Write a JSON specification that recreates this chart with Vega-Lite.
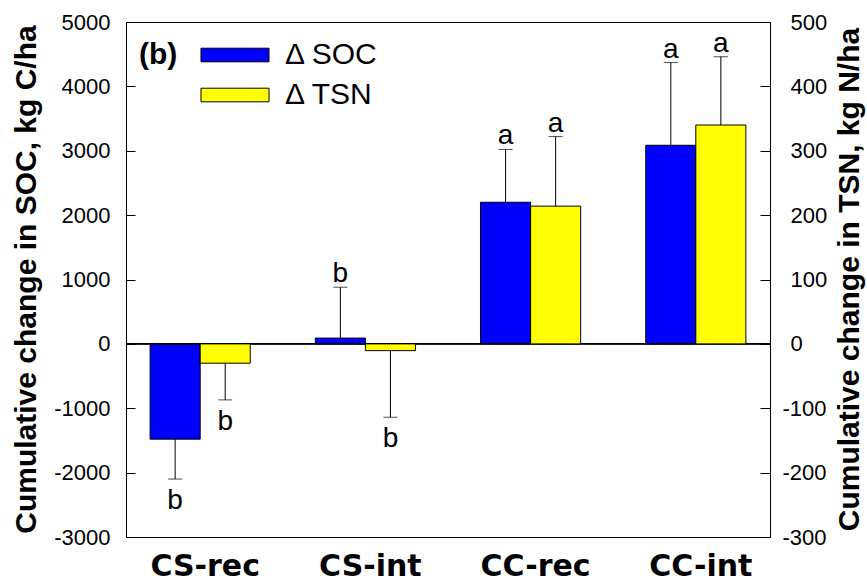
{
  "$schema": "https://vega.github.io/schema/vega-lite/v6.json",
  "width": 644,
  "height": 515,
  "autosize": {"type": "none"},
  "padding": {"left": 126, "top": 22, "right": 97, "bottom": 45},
  "background": "white",
  "config": {
    "view": {"stroke": "black", "strokeWidth": 1},
    "font": "Liberation Sans",
    "axis": {"labelColor": "black", "titleColor": "black", "tickColor": "black", "domain": false}
  },
  "datasets": {
    "soc": [
      {"treat": "CS-rec", "series": "Δ SOC", "value": -1480, "err": -2100, "letter": "b"},
      {"treat": "CS-int", "series": "Δ SOC", "value": 90, "err": 880, "letter": "b"},
      {"treat": "CC-rec", "series": "Δ SOC", "value": 2200, "err": 3020, "letter": "a"},
      {"treat": "CC-int", "series": "Δ SOC", "value": 3085, "err": 4370, "letter": "a"}
    ],
    "tsn": [
      {"treat": "CS-rec", "series": "Δ TSN", "value": -30, "err": -87, "letter": "b"},
      {"treat": "CS-int", "series": "Δ TSN", "value": -10.5, "err": -114, "letter": "b"},
      {"treat": "CC-rec", "series": "Δ TSN", "value": 214, "err": 322, "letter": "a"},
      {"treat": "CC-int", "series": "Δ TSN", "value": 340, "err": 446, "letter": "a"}
    ]
  },
  "encoding": {
    "x": {
      "field": "treat", "type": "nominal", "sort": ["CS-rec", "CS-int", "CC-rec", "CC-int"],
      "scale": {"paddingInner": 0.394, "paddingOuter": 0.146},
      "title": null,
      "axis": {"orient": "bottom", "ticks": false, "tickSize": 0, "labelAngle": 0, "labelFont": "DejaVu Sans", "labelFontWeight": "bold", "labelFontSize": 30, "labelBaseline": "alphabetic", "labelPadding": 38, "labelOffset": 5}
    },
    "xOffset": {"field": "series", "type": "nominal", "scale": {"domain": ["Δ SOC", "Δ TSN"]}}
  },
  "layer": [
    {
      "data": {"name": "soc"},
      "layer": [
        {
          "mark": {"type": "bar", "stroke": "black", "strokeWidth": 1},
          "encoding": {
            "y": {
              "field": "value", "type": "quantitative",
              "scale": {"domain": [-3000, 5000], "nice": false, "zero": false},
              "title": "Cumulative change in SOC, kg C/ha",
              "axis": {
                "orient": "left", "values": [-3000, -2000, -1000, 0, 1000, 2000, 3000, 4000, 5000],
                "labelExpr": "'' + datum.value",
                "tickSize": -9, "tickWidth": 1, "labelPadding": 25, "labelFontSize": 22, "labelFont": "Liberation Sans",
                "labelBaseline": "middle", "grid": false,
                "titleFont": "Liberation Sans", "titleFontSize": 30, "titleFontWeight": "bold",
                "titleAngle": 270, "titleBaseline": "alphabetic", "titleAlign": "center", "titleX": -91, "titleY": 257
              }
            },
            "color": {
              "field": "series", "type": "nominal",
              "scale": {"domain": ["Δ SOC", "Δ TSN"], "range": ["#0000ff", "#ffff00"]},
              "legend": {
                "title": "(b)", "titleOrient": "left", "titleAnchor": "start", "titleBaseline": "top",
                "titleFont": "Liberation Sans", "titleFontSize": 30, "titleFontWeight": "bold", "titleColor": "black",
                "titlePadding": 42,
                "orient": "none", "legendX": 13, "legendY": 18, "direction": "vertical",
                "symbolType": "M-5,-1H5V1H-5Z", "symbolSize": 185, "symbolStrokeColor": "black", "symbolStrokeWidth": 1,
                "symbolOpacity": 1, "labelFont": "Liberation Sans", "labelFontSize": 30, "labelColor": "black",
                "labelOffset": 35, "rowPadding": 10
              }
            }
          }
        },
        {
          "mark": {"type": "rule", "color": "black", "strokeWidth": 1},
          "encoding": {"y": {"datum": 0, "type": "quantitative", "title": "Cumulative change in SOC, kg C/ha"}, "x": null, "xOffset": null}
        },
        {
          "mark": {"type": "rule", "color": "black", "strokeWidth": 1},
          "encoding": {
            "y": {"field": "value", "type": "quantitative", "title": "Cumulative change in SOC, kg C/ha"},
            "y2": {"field": "err"}
          }
        },
        {
          "mark": {"type": "tick", "orient": "horizontal", "size": 14, "thickness": 1, "color": "black"},
          "encoding": {"y": {"field": "err", "type": "quantitative", "title": "Cumulative change in SOC, kg C/ha"}}
        },
        {
          "transform": [{"filter": "datum.err > 0"}],
          "mark": {"type": "text", "font": "Liberation Sans", "fontSize": 28, "baseline": "alphabetic", "dy": -5, "color": "black"},
          "encoding": {"y": {"field": "err", "type": "quantitative", "title": "Cumulative change in SOC, kg C/ha"}, "text": {"field": "letter"}}
        },
        {
          "transform": [{"filter": "datum.err < 0"}],
          "mark": {"type": "text", "font": "Liberation Sans", "fontSize": 28, "baseline": "alphabetic", "dy": 30, "color": "black"},
          "encoding": {"y": {"field": "err", "type": "quantitative", "title": "Cumulative change in SOC, kg C/ha"}, "text": {"field": "letter"}}
        }
      ]
    },
    {
      "data": {"name": "tsn"},
      "layer": [
        {
          "mark": {"type": "bar", "stroke": "black", "strokeWidth": 1},
          "encoding": {
            "y": {
              "field": "value", "type": "quantitative",
              "scale": {"domain": [-300, 500], "nice": false, "zero": false},
              "title": "Cumulative change in TSN, kg N/ha",
              "axis": {
                "orient": "right", "values": [-300, -200, -100, 0, 100, 200, 300, 400, 500],
                "labelExpr": "'' + datum.value",
                "tickSize": -10, "tickWidth": 1,
                "labelPadding": {"condition": {"test": "datum.value < 0", "value": 22}, "value": 30},
                "labelFontSize": 22, "labelFont": "Liberation Sans", "labelAlign": "left",
                "labelBaseline": "middle", "grid": false,
                "titleFont": "Liberation Sans", "titleFontSize": 30, "titleFontWeight": "bold",
                "titleAngle": 270, "titleBaseline": "alphabetic", "titleAlign": "center", "titleX": 88, "titleY": 257
              }
            },
            "color": {"field": "series", "type": "nominal"}
          }
        },
        {
          "mark": {"type": "rule", "color": "black", "strokeWidth": 1},
          "encoding": {
            "y": {"field": "value", "type": "quantitative", "title": "Cumulative change in TSN, kg N/ha"},
            "y2": {"field": "err"}
          }
        },
        {
          "mark": {"type": "tick", "orient": "horizontal", "size": 14, "thickness": 1, "color": "black"},
          "encoding": {"y": {"field": "err", "type": "quantitative", "title": "Cumulative change in TSN, kg N/ha"}}
        },
        {
          "transform": [{"filter": "datum.err > 0"}],
          "mark": {"type": "text", "font": "Liberation Sans", "fontSize": 28, "baseline": "alphabetic", "dy": -5, "color": "black"},
          "encoding": {"y": {"field": "err", "type": "quantitative", "title": "Cumulative change in TSN, kg N/ha"}, "text": {"field": "letter"}}
        },
        {
          "transform": [{"filter": "datum.err < 0"}],
          "mark": {"type": "text", "font": "Liberation Sans", "fontSize": 28, "baseline": "alphabetic", "dy": 30, "color": "black"},
          "encoding": {"y": {"field": "err", "type": "quantitative", "title": "Cumulative change in TSN, kg N/ha"}, "text": {"field": "letter"}}
        }
      ]
    }
  ],
  "resolve": {"scale": {"y": "independent"}}
}
